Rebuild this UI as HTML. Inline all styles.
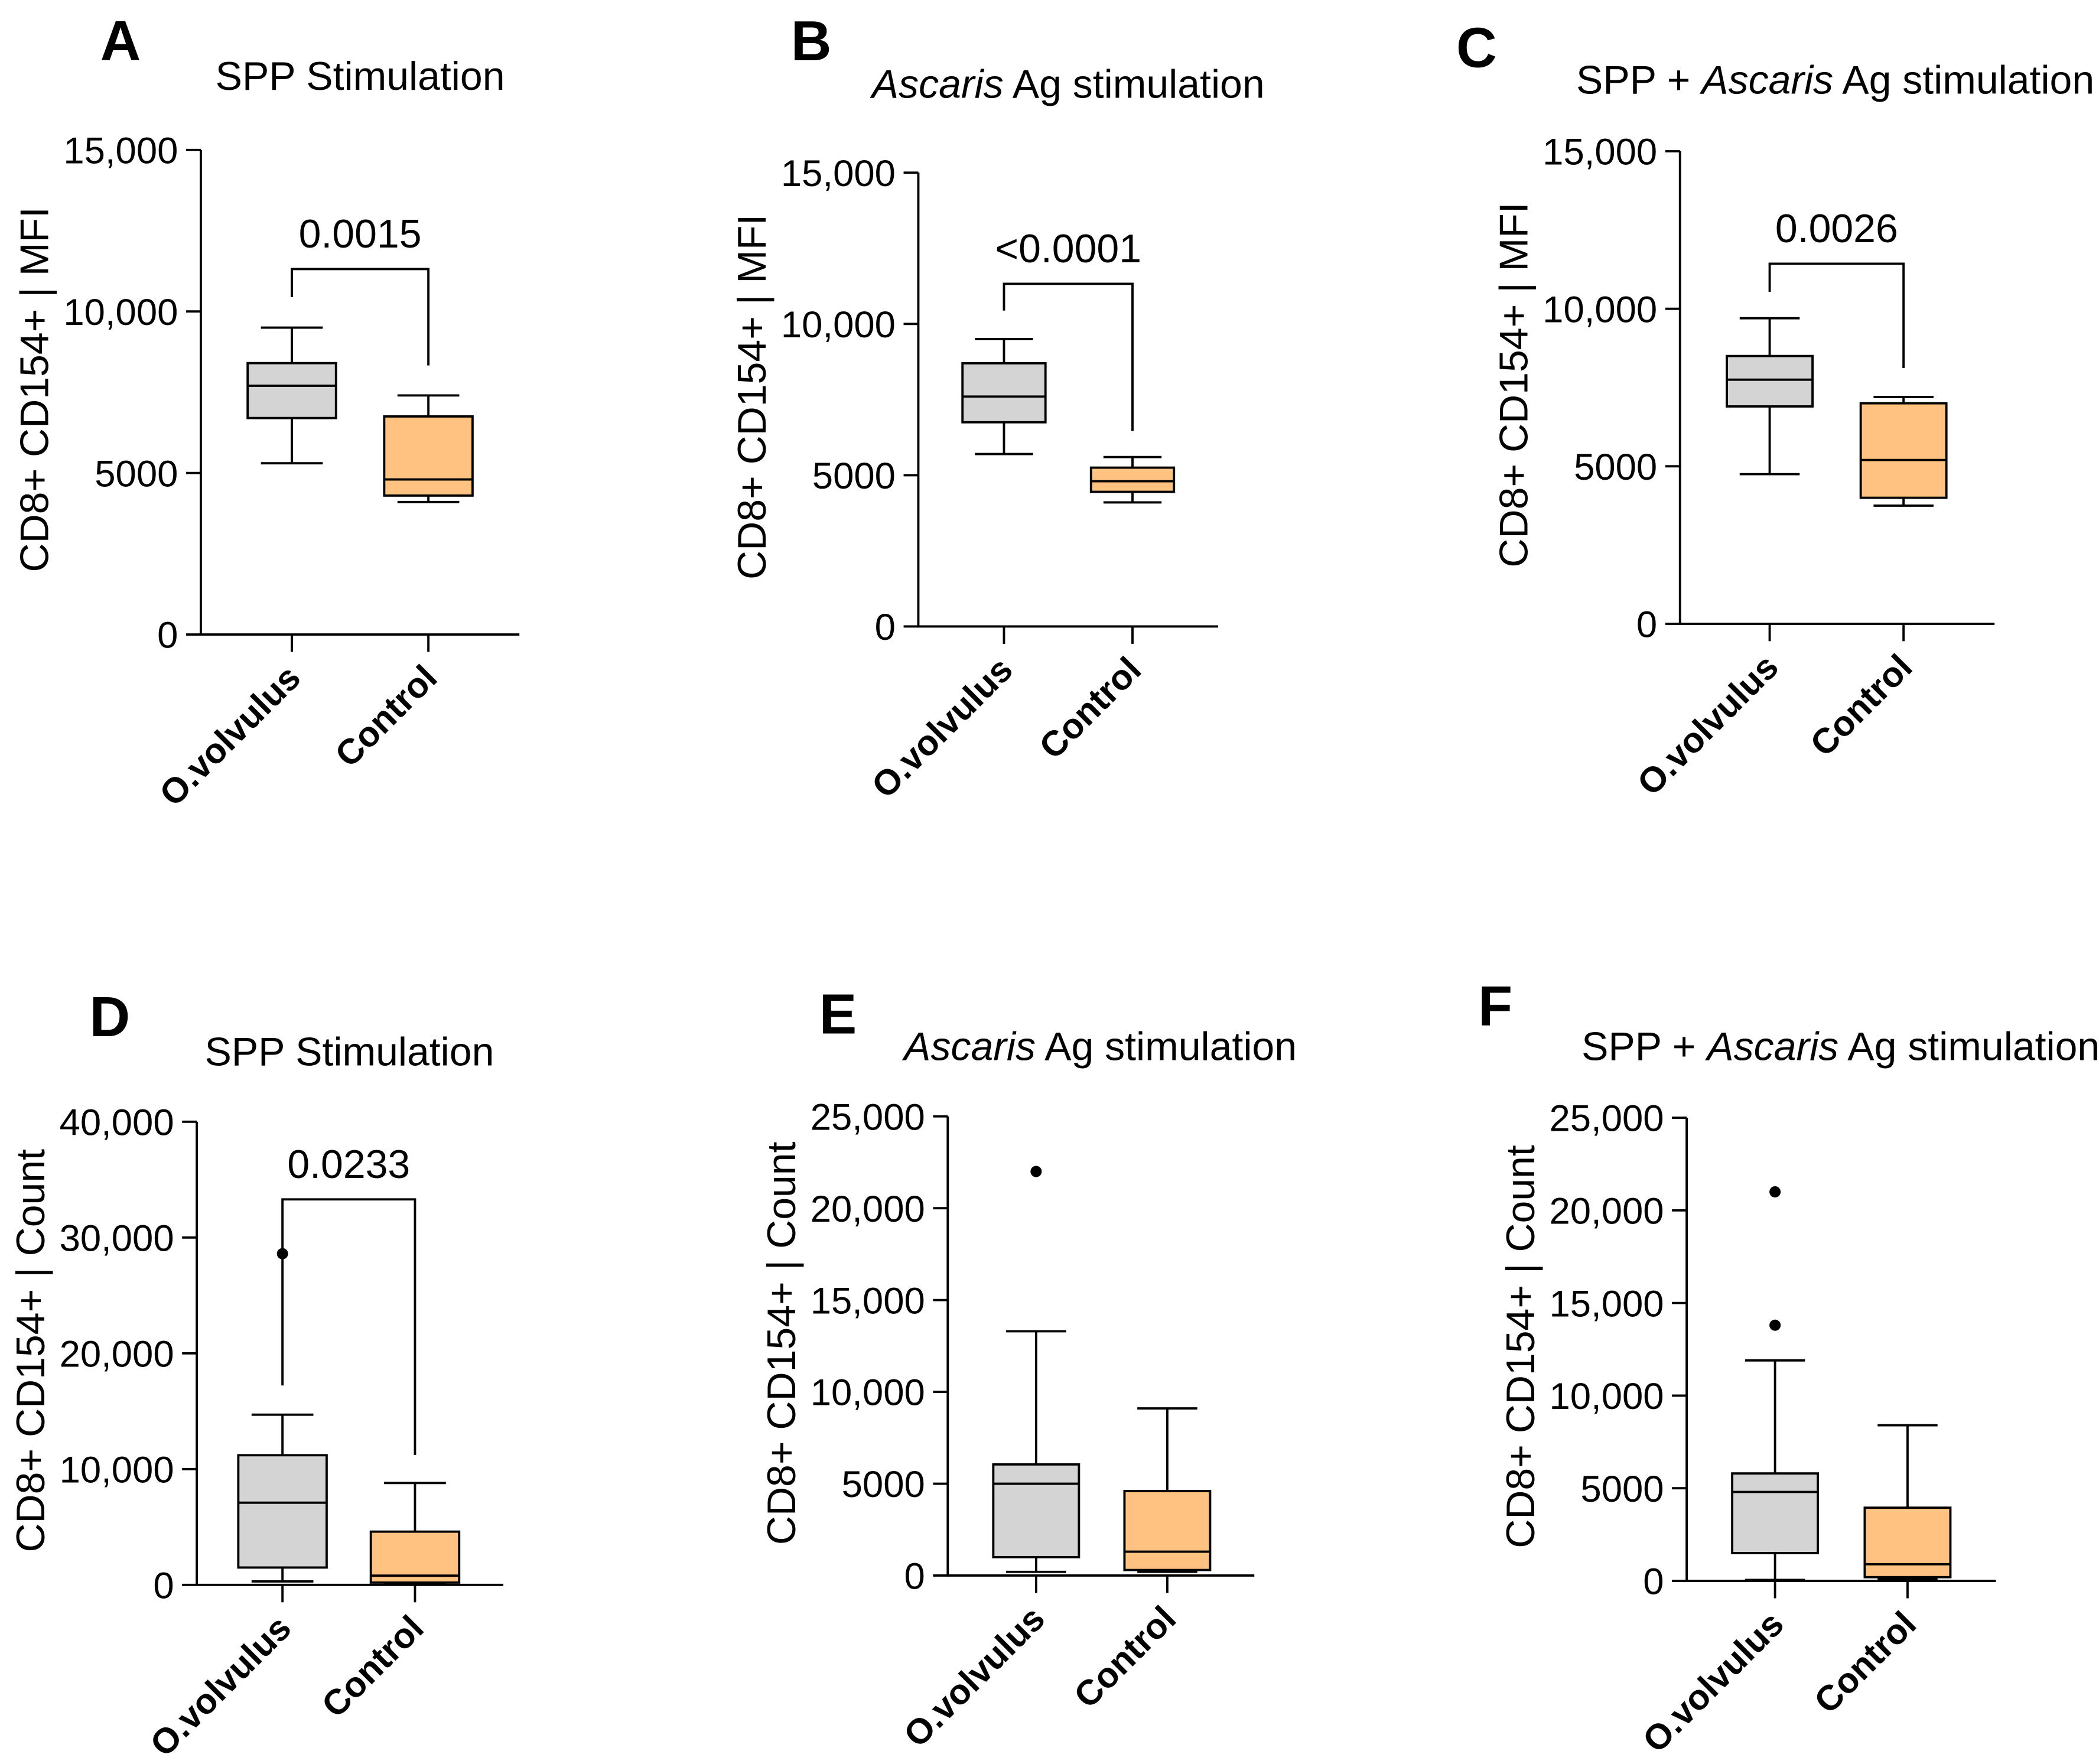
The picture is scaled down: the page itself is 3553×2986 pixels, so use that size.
<!DOCTYPE html>
<html><head><meta charset="utf-8"><style>
html,body{margin:0;padding:0;background:#fff;}
svg{display:block;}
text{font-family:"Liberation Sans",Arial,sans-serif;fill:#000;}
</style></head><body>
<svg id="fig" width="3553" height="2986" viewBox="0 0 1568 1317.8" xmlns="http://www.w3.org/2000/svg"></svg>
<script>
const categories = ["O.volvulus", "Control"];
// stats: [min, q1, median, q3, max]
const statsA = [[5300, 6700, 7700, 8400, 9500], [4100, 4300, 4800, 6750, 7400]];
const statsB = [[5700, 6750, 7600, 8700, 9500], [4100, 4450, 4800, 5250, 5600]];
const statsC = [[4750, 6900, 7750, 8500, 9700], [3750, 4000, 5200, 7000, 7200]];
const statsD = [[300, 1500, 7100, 11200, 14700], [100, 200, 800, 4600, 8800]];
const statsE = [[200, 1000, 5000, 6050, 13300], [200, 300, 1300, 4600, 9100]];
const statsF = [[50, 1500, 4800, 5800, 11900], [100, 200, 900, 3950, 8400]];
const outliersD = [[28600], []];
const outliersE = [[22000], []];
const outliersF = [[21000, 13800], []];
const ticksMFI = [0, 5000, 10000, 15000];
const ticksD = [0, 10000, 20000, 30000, 40000];
const ticksEF = [0, 5000, 10000, 15000, 20000, 25000];
const pvalues = ["0.0015", "<0.0001", "0.0026", "0.0233"];

const NS = "http://www.w3.org/2000/svg";
const svg = document.getElementById("fig");
function el(tag, attrs, parent) {
  const e = document.createElementNS(NS, tag);
  for (const k in attrs) e.setAttribute(k, attrs[k]);
  (parent || svg).appendChild(e);
  return e;
}
function fmt(v) { return v >= 10000 ? v.toLocaleString("en-US") : String(v); }
const fills = ["#d4d4d4", "#ffc281"];

function panel(cfg) {
  const g = el("g", {});
  
  
  const ymax = cfg.ticks[cfg.ticks.length - 1];
  const y = v => cfg.y0 - (v / ymax) * (cfg.y0 - cfg.ytop);
  const L = el("text", {x: cfg.lx, y: cfg.ly, "font-size": 42, "font-weight": "bold", "text-anchor": "middle"}, g);
  L.textContent = cfg.letter;
  
  
  const T = el("text", {x: cfg.tx, y: cfg.ty, "font-size": 30, "text-anchor": "middle"}, g);
  
  
  cfg.title.forEach(p => { const s = el("tspan", p[1] ? {"font-style": "italic"} : {}, T); s.textContent = p[0]; });
  const yl = el("text", {x: 0, y: 0, "font-size": 30, "text-anchor": "middle", transform: `translate(${cfg.ax - 114},${(cfg.y0 + cfg.ytop) / 2 - 2}) rotate(-90)`}, g);
  yl.textContent = cfg.ylabel;
  
  
  const ax = el("path", {d: `M${cfg.ax},${cfg.ytop}V${cfg.y0}H${cfg.xend}`, stroke: "#000", "stroke-width": 1.7, fill: "none"}, g);
  
  
  cfg.ticks.forEach(t => {
    el("line", {x1: cfg.ax - 11, x2: cfg.ax, y1: y(t), y2: y(t), stroke: "#000", "stroke-width": 1.7}, g);
    const tl = el("text", {x: cfg.ax - 17, y: y(t) + 10, "font-size": 28, "text-anchor": "end"}, g);
    tl.textContent = fmt(t);
    
    
  });
  cfg.stats.forEach((s, i) => {
    const cx = cfg.cx[i], hw = cfg.hw, cw = hw * 0.7;
    el("line", {x1: cx, x2: cx, y1: cfg.y0, y2: cfg.y0 + 13, stroke: "#000", "stroke-width": 1.7}, g);
    const cl = el("text", {x: 0, y: 0, "font-size": 26.5, "font-weight": "bold", "text-anchor": "end", transform: `translate(${cx + 8},${cfg.y0 + 34}) rotate(-45)`}, g);
    cl.textContent = categories[i];
    
    
    const bg = el("g", {stroke: "#000", "stroke-width": 1.7}, g);
    
    
    el("line", {x1: cx, x2: cx, y1: y(s[0]), y2: y(s[1])}, bg);
    el("line", {x1: cx, x2: cx, y1: y(s[3]), y2: y(s[4])}, bg);
    el("line", {x1: cx - cw, x2: cx + cw, y1: y(s[0]), y2: y(s[0])}, bg);
    el("line", {x1: cx - cw, x2: cx + cw, y1: y(s[4]), y2: y(s[4])}, bg);
    el("rect", {x: cx - hw, y: y(s[3]), width: 2 * hw, height: y(s[1]) - y(s[3]), fill: fills[i]}, bg);
    el("line", {x1: cx - hw, x2: cx + hw, y1: y(s[2]), y2: y(s[2])}, bg);
    (cfg.out ? cfg.out[i] : []).forEach(o => {
      const c = el("circle", {cx: cx, cy: y(o), r: 4.2, fill: "#000"}, g);
      
      
    });
  });
  if (cfg.p) {
    const b = el("path", {d: `M${cfg.cx[0]},${cfg.bl}V${cfg.by}H${cfg.cx[1]}V${cfg.br}`, stroke: "#000", "stroke-width": 1.7, fill: "none"}, g);
    
    
    const pt = el("text", {x: (cfg.cx[0] + cfg.cx[1]) / 2, y: cfg.by - 16, "font-size": 30, "text-anchor": "middle"}, g);
    pt.textContent = cfg.p;
    
    
  }
}
const MFI = "CD8+ CD154+ | MFI", CNT = "CD8+ CD154+ | Count";
panel({letter: "A", lx: 90, ly: 45, title: [["SPP Stimulation"]], tx: 269, ty: 67, ylabel: MFI, ax: 150, ytop: 112, y0: 474, xend: 388, cx: [218, 320], hw: 33, ticks: ticksMFI, stats: statsA, p: pvalues[0], by: 201, bl: 222, br: 273});
panel({letter: "B", lx: 606, ly: 45, title: [["Ascaris", 1], [" Ag stimulation"]], tx: 798, ty: 73, ylabel: MFI, ax: 686, ytop: 129, y0: 468, xend: 910, cx: [750, 846], hw: 31, ticks: ticksMFI, stats: statsB, p: pvalues[1], by: 212, bl: 232, br: 322});
panel({letter: "C", lx: 1103, ly: 50, title: [["SPP + "], ["Ascaris", 1], [" Ag stimulation"]], tx: 1371, ty: 70, ylabel: MFI, ax: 1255, ytop: 113, y0: 466, xend: 1490, cx: [1322, 1422], hw: 32, ticks: ticksMFI, stats: statsC, p: pvalues[2], by: 197, bl: 218, br: 275});
panel({letter: "D", lx: 82, ly: 774, title: [["SPP Stimulation"]], tx: 261, ty: 796, ylabel: CNT, ax: 147, ytop: 838, y0: 1184, xend: 376, cx: [211, 310], hw: 33, ticks: ticksD, stats: statsD, out: outliersD, p: pvalues[3], by: 896, bl: 1035, br: 1087});
panel({letter: "E", lx: 626, ly: 772, title: [["Ascaris", 1], [" Ag stimulation"]], tx: 822, ty: 792, ylabel: CNT, ax: 708, ytop: 834, y0: 1177, xend: 937, cx: [774, 872], hw: 32, ticks: ticksEF, stats: statsE, out: outliersE});
panel({letter: "F", lx: 1117, ly: 766, title: [["SPP + "], ["Ascaris", 1], [" Ag stimulation"]], tx: 1375, ty: 792, ylabel: CNT, ax: 1260, ytop: 835, y0: 1181, xend: 1491, cx: [1326, 1425], hw: 32, ticks: ticksEF, stats: statsF, out: outliersF});
</script>
</body></html>
